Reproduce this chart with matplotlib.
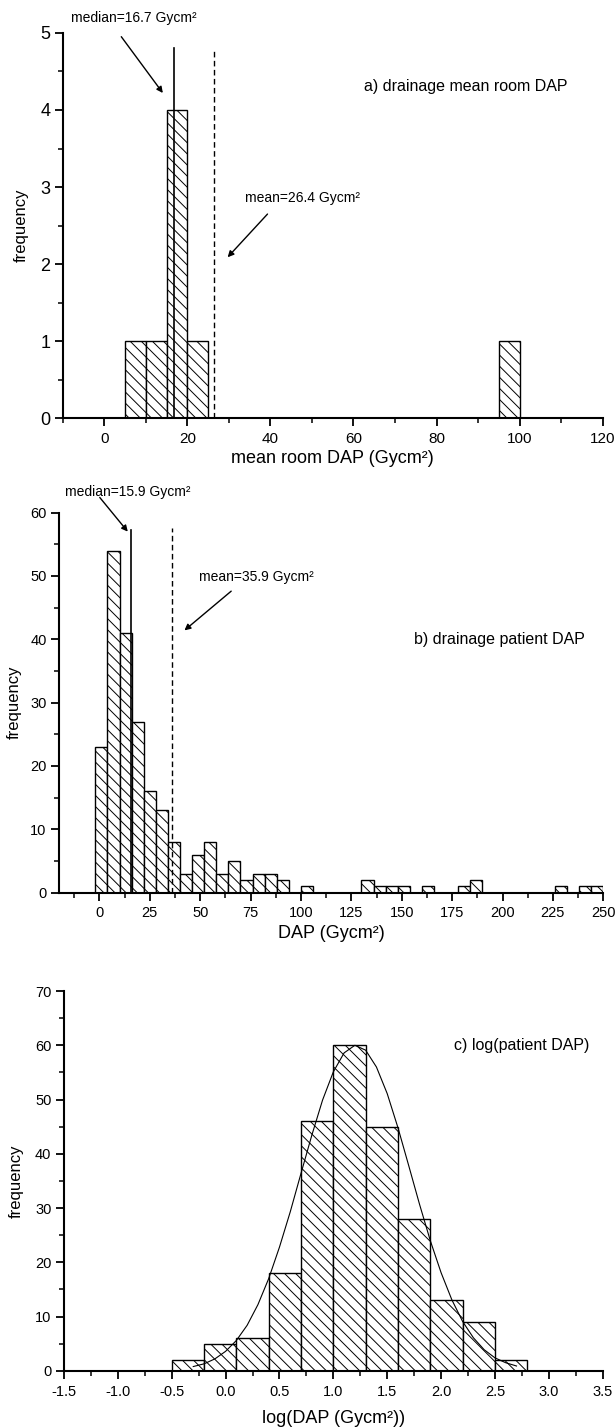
"""Three stacked DAP histograms: room means, patient DAP and log(patient DAP)."""

import matplotlib

matplotlib.use("Agg")

import matplotlib.pyplot as plt
import numpy as np
from matplotlib.ticker import FormatStrFormatter, MultipleLocator

# a) drainage mean room DAP, 5 Gycm2 bins
ROOM_BIN_LEFT = [5, 10, 15, 20, 95]
ROOM_BIN_WIDTH = 5
ROOM_COUNTS = [1, 1, 4, 1, 1]
ROOM_MEDIAN = 16.7
ROOM_MEAN = 26.4

# b) drainage patient DAP, 6 Gycm2 bins starting at -2
PATIENT_BIN_START = -2
PATIENT_BIN_WIDTH = 6
PATIENT_COUNTS = [
    23, 54, 41, 27, 16, 13, 8, 3, 6, 8, 3, 5, 2, 3, 3, 2, 0, 1,
    0, 0, 0, 0, 2, 1, 1, 1, 0, 1, 0, 0, 1, 2,
    0, 0, 0, 0, 0, 0, 1, 0, 1, 1,
]
PATIENT_MEDIAN = 15.9
PATIENT_MEAN = 35.9

# c) log(patient DAP), 0.3 wide bins
LOG_BIN_LEFT = [-0.5, -0.2, 0.1, 0.4, 0.7, 1.0, 1.3, 1.6, 1.9, 2.2, 2.5]
LOG_BIN_WIDTH = 0.3
LOG_COUNTS = [2, 5, 6, 18, 46, 60, 45, 28, 13, 9, 2]

# fitted normal curve
FIT_X = [-0.3, -0.2, -0.1, 0.0, 0.1, 0.2, 0.3, 0.4, 0.5, 0.6, 0.7, 0.8, 0.9,
         1.0, 1.1, 1.2, 1.3, 1.4, 1.5, 1.6, 1.7, 1.8, 1.9, 2.0, 2.1, 2.2,
         2.3, 2.4, 2.5, 2.6, 2.7]
FIT_Y = [0.8, 1.3, 2.2, 3.6, 5.6, 8.4, 12.2, 17.0, 22.8, 29.3, 36.4, 43.4, 49.9,
         55.1, 58.6, 60.0, 59.1, 56.0, 51.1, 44.8, 37.8, 30.7, 24.0, 18.1, 13.1, 9.1,
         6.1, 3.9, 2.4, 1.5, 0.9]

HATCH = "\\" * 3
FONT = "Liberation Sans"


def style_axis(ax, tick_size_x, tick_size_y) -> None:
    for side in ("top", "right"):
        ax.spines[side].set_visible(False)
    for side in ("left", "bottom"):
        ax.spines[side].set_linewidth(1.5)
    ax.tick_params(which="major", direction="out", length=6, width=1.3)
    ax.tick_params(which="minor", direction="out", length=3.5, width=1.1)
    ax.tick_params(axis="x", labelsize=tick_size_x, pad=4)
    ax.tick_params(axis="y", labelsize=tick_size_y, pad=3)


def hist_bars(ax, lefts, counts, width) -> None:
    ax.bar(lefts, counts, width=width, align="edge", facecolor="white",
           edgecolor="black", linewidth=1.0, hatch=HATCH, zorder=2)


def arrow(ax, start, end) -> None:
    ax.annotate("", xy=end, xytext=start, annotation_clip=False,
                arrowprops=dict(arrowstyle="-|>", color="black", lw=1.0,
                                mutation_scale=9, shrinkA=0, shrinkB=0))


def main() -> None:
    plt.rcParams["font.family"] = [FONT, "DejaVu Sans"]
    plt.rcParams["hatch.linewidth"] = 0.7

    fig = plt.figure(figsize=(6.15, 14.28), dpi=100, facecolor="white")

    # ---- a) room means
    ax_a = fig.add_axes([0.102, 0.707, 0.878, 0.270])
    hist_bars(ax_a, ROOM_BIN_LEFT, ROOM_COUNTS, ROOM_BIN_WIDTH)
    ax_a.plot([ROOM_MEDIAN, ROOM_MEDIAN], [0, 4.8], color="black", lw=1.2, zorder=3)
    ax_a.plot([ROOM_MEAN, ROOM_MEAN], [0, 4.8], color="black", lw=1.0,
              ls=(0, (4, 2.5)), zorder=3)
    ax_a.set_xlim(-10, 120)
    ax_a.set_ylim(0, 5)
    ax_a.xaxis.set_major_locator(MultipleLocator(20))
    ax_a.xaxis.set_minor_locator(MultipleLocator(10))
    ax_a.yaxis.set_major_locator(MultipleLocator(1))
    ax_a.yaxis.set_minor_locator(MultipleLocator(0.5))
    style_axis(ax_a, 11, 13)
    ax_a.set_xlabel("mean room DAP (Gycm²)", fontsize=13, labelpad=3)
    ax_a.set_ylabel("frequency", fontsize=12, labelpad=8)
    ax_a.text(7.2, 5.19, f"median={ROOM_MEDIAN} Gycm²", fontsize=10,
              ha="center", va="center", clip_on=False)
    arrow(ax_a, (4.1, 4.95), (14.1, 4.22))
    ax_a.text(33.8, 2.86, f"mean={ROOM_MEAN} Gycm²", fontsize=10,
              ha="left", va="center")
    arrow(ax_a, (39.3, 2.65), (29.7, 2.09))
    ax_a.text(87, 4.31, "a) drainage mean room DAP", fontsize=11.5,
              ha="center", va="center")

    # ---- b) patient DAP
    ax_b = fig.add_axes([0.096, 0.375, 0.885, 0.266])
    lefts_b = PATIENT_BIN_START + PATIENT_BIN_WIDTH * np.arange(len(PATIENT_COUNTS))
    hist_bars(ax_b, lefts_b, PATIENT_COUNTS, PATIENT_BIN_WIDTH)
    ax_b.plot([PATIENT_MEDIAN, PATIENT_MEDIAN], [0, 57.3], color="black", lw=1.2, zorder=3)
    ax_b.plot([PATIENT_MEAN, PATIENT_MEAN], [0, 57.6], color="black", lw=1.0,
              ls=(0, (4, 2.5)), zorder=3)
    ax_b.set_xlim(-20, 250)
    ax_b.set_ylim(0, 60)
    ax_b.xaxis.set_major_locator(MultipleLocator(25))
    ax_b.xaxis.set_minor_locator(MultipleLocator(12.5))
    ax_b.yaxis.set_major_locator(MultipleLocator(10))
    ax_b.yaxis.set_minor_locator(MultipleLocator(5))
    style_axis(ax_b, 10.5, 10.5)
    ax_b.set_xlabel("DAP (Gycm²)", fontsize=13, labelpad=3)
    ax_b.set_ylabel("frequency", fontsize=12, labelpad=6)
    ax_b.text(14.1, 63.2, f"median={PATIENT_MEDIAN} Gycm²", fontsize=10,
              ha="center", va="center", clip_on=False)
    arrow(ax_b, (0.2, 62.4), (14.1, 57.0))
    ax_b.text(49.6, 49.9, f"mean={PATIENT_MEAN} Gycm²", fontsize=10,
              ha="left", va="center")
    arrow(ax_b, (65.4, 47.6), (42.2, 41.4))
    ax_b.text(198.7, 40, "b) drainage patient DAP", fontsize=11.5,
              ha="center", va="center")

    # ---- c) log(patient DAP)
    ax_c = fig.add_axes([0.104, 0.040, 0.876, 0.266])
    hist_bars(ax_c, LOG_BIN_LEFT, LOG_COUNTS, LOG_BIN_WIDTH)
    ax_c.plot(FIT_X, FIT_Y, color="black", lw=0.8, zorder=3)
    ax_c.set_xlim(-1.5, 3.5)
    ax_c.set_ylim(0, 70)
    ax_c.xaxis.set_major_locator(MultipleLocator(0.5))
    ax_c.xaxis.set_minor_locator(MultipleLocator(0.25))
    ax_c.xaxis.set_major_formatter(FormatStrFormatter("%.1f"))
    ax_c.yaxis.set_major_locator(MultipleLocator(10))
    ax_c.yaxis.set_minor_locator(MultipleLocator(5))
    style_axis(ax_c, 10.5, 10.5)
    ax_c.set_xlabel("log(DAP (Gycm²))", fontsize=13, labelpad=8)
    ax_c.set_ylabel("frequency", fontsize=12, labelpad=8)
    ax_c.text(2.75, 60, "c) log(patient DAP)", fontsize=11.5,
              ha="center", va="center")

    fig.savefig("out.png", dpi=100, facecolor="white")


if __name__ == "__main__":
    main()
